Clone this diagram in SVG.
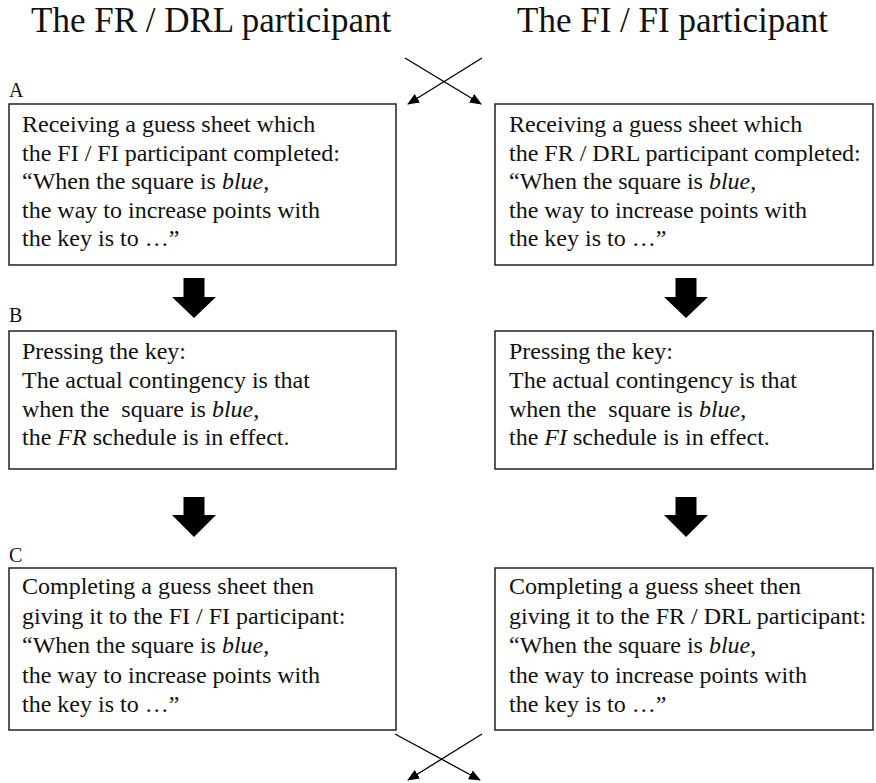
<svg xmlns="http://www.w3.org/2000/svg" width="876" height="783" viewBox="0 0 876 783">
<style>
text { font-family: "Liberation Serif", "Times New Roman", serif; fill: #111; }
.title { font-size: 35px; }
.body { font-size: 24px; }
.lbl { font-size: 20px; }
.box { fill: #fff; stroke: #222; stroke-width: 1.5; }
.blk { fill: #000; }
.xl { stroke: #000; stroke-width: 1.3; fill: none; marker-end: url(#ah); }
</style>
<defs>
<marker id="ah" markerUnits="userSpaceOnUse" markerWidth="12" markerHeight="10" refX="11" refY="5" orient="auto">
<path d="M0,0 L12,5 L0,10 z" fill="#000"/>
</marker>
</defs>
<rect width="876" height="783" fill="#fff"/>

<g id="title-left"><text class="title" x="31" y="32">The FR / DRL participant</text></g>
<g id="title-right"><text class="title" x="517" y="32">The FI / FI participant</text></g>

<g id="label-A"><text class="lbl" x="9" y="97">A</text></g>
<g id="label-B"><text class="lbl" x="9" y="322">B</text></g>
<g id="label-C"><text class="lbl" x="9" y="562">C</text></g>

<g id="node-A-left">
<rect class="box" x="9" y="104" width="387" height="161"/>
<text class="body" x="22" y="132">Receiving a guess sheet which</text>
<text class="body" x="22" y="160.5">the FI / FI participant completed:</text>
<text class="body" x="22" y="189">“When the square is <tspan font-style="italic">blue</tspan>,</text>
<text class="body" x="22" y="217.5">the way to increase points with</text>
<text class="body" x="22" y="246">the key is to …”</text>
</g>
<g id="node-A-right">
<rect class="box" x="495" y="104" width="378" height="161"/>
<text class="body" x="509" y="132">Receiving a guess sheet which</text>
<text class="body" x="509" y="160.5">the FR / DRL participant completed:</text>
<text class="body" x="509" y="189">“When the square is <tspan font-style="italic">blue</tspan>,</text>
<text class="body" x="509" y="217.5">the way to increase points with</text>
<text class="body" x="509" y="246">the key is to …”</text>
</g>

<g id="node-B-left">
<rect class="box" x="9" y="331" width="387" height="138"/>
<text class="body" x="22" y="359">Pressing the key:</text>
<text class="body" x="22" y="388">The actual contingency is that</text>
<text class="body" x="22" y="416.5" xml:space="preserve">when the  square is <tspan font-style="italic">blue</tspan>,</text>
<text class="body" x="22" y="445">the <tspan font-style="italic">FR</tspan> schedule is in effect.</text>
</g>
<g id="node-B-right">
<rect class="box" x="495" y="331" width="378" height="138"/>
<text class="body" x="509" y="359">Pressing the key:</text>
<text class="body" x="509" y="388">The actual contingency is that</text>
<text class="body" x="509" y="416.5" xml:space="preserve">when the  square is <tspan font-style="italic">blue</tspan>,</text>
<text class="body" x="509" y="445">the <tspan font-style="italic">FI</tspan> schedule is in effect.</text>
</g>

<g id="node-C-left">
<rect class="box" x="9" y="568" width="387" height="162"/>
<text class="body" x="22" y="594">Completing a guess sheet then</text>
<text class="body" x="22" y="623.5">giving it to the FI / FI participant:</text>
<text class="body" x="22" y="653">“When the square is <tspan font-style="italic">blue</tspan>,</text>
<text class="body" x="22" y="682.5">the way to increase points with</text>
<text class="body" x="22" y="712">the key is to …”</text>
</g>
<g id="node-C-right">
<rect class="box" x="495" y="568" width="378" height="162"/>
<text class="body" x="509" y="594">Completing a guess sheet then</text>
<text class="body" x="509" y="623.5">giving it to the FR / DRL participant:</text>
<text class="body" x="509" y="653">“When the square is <tspan font-style="italic">blue</tspan>,</text>
<text class="body" x="509" y="682.5">the way to increase points with</text>
<text class="body" x="509" y="712">the key is to …”</text>
</g>

<g id="connectors">
<line class="xl" x1="482" y1="58" x2="408" y2="104"/>
<line class="xl" x1="405" y1="58" x2="481" y2="104"/>
<polygon class="blk" points="183.5,278 204.5,278 204.5,297 216,297 194,318 172,297 183.5,297"/>
<polygon class="blk" points="675.5,278 696.5,278 696.5,297 708,297 686,318 664,297 675.5,297"/>
<polygon class="blk" points="183.5,497 204.5,497 204.5,515 216,515 194,537 172,515 183.5,515"/>
<polygon class="blk" points="675.5,497 696.5,497 696.5,515 708,515 686,537 664,515 675.5,515"/>
<line class="xl" x1="395" y1="734" x2="480" y2="780"/>
<line class="xl" x1="482" y1="734" x2="408" y2="780"/>
</g>
</svg>
